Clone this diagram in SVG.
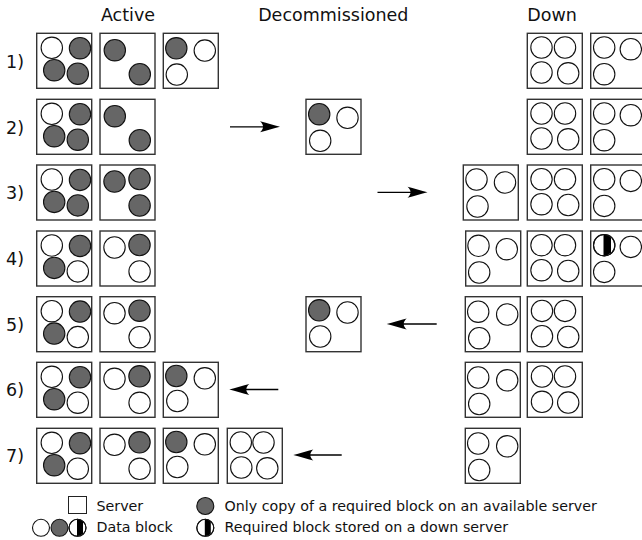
<svg xmlns="http://www.w3.org/2000/svg" width="642" height="540" viewBox="0 0 642 540">
<style>
text{font-family:"DejaVu Sans","Liberation Sans",sans-serif;fill:#111}
.t{font-size:17.5px;text-anchor:middle}
.r{font-size:17.5px}
.l{font-size:14.25px}
.b{fill:#fff;stroke:#333;stroke-width:1.4}
.w{fill:#fff;stroke:#111;stroke-width:1.1}
.g{fill:#666;stroke:#111;stroke-width:1.1}
.o{fill:none;stroke:#111;stroke-width:1.1}
.k{fill:#000}
.a{stroke:#000;stroke-width:1.3;fill:none;marker-end:url(#ah)}
</style>
<defs>
<marker id="ah" viewBox="-21 -6 22 12" refX="-8" refY="0" markerWidth="22" markerHeight="12" markerUnits="userSpaceOnUse" orient="auto">
<path d="M0,0 C-6,-1.5 -14,-4 -20,-5.5 C-16,-2 -16,2 -20,5.5 C-14,4 -6,1.5 0,0 Z" fill="#000"/>
</marker>
</defs>
<rect width="642" height="540" fill="#fff"/>

<g id="headers">
<text class="t" x="128" y="21">Active</text>
<text class="t" x="333.3" y="21">Decommissioned</text>
<text class="t" x="552" y="21">Down</text>
</g>
<g id="row-labels">
<text class="r" x="6" y="67.5">1)</text>
<text class="r" x="6" y="133.5">2)</text>
<text class="r" x="6" y="199">3)</text>
<text class="r" x="6" y="265">4)</text>
<text class="r" x="6" y="330.7">5)</text>
<text class="r" x="6" y="396.3">6)</text>
<text class="r" x="6" y="462.3">7)</text>
</g>

<!-- Row 1 -->
<g id="r1-a1"><rect class="b" x="36.7" y="33.3" width="55" height="55"/>
<circle class="w" cx="51.8" cy="47.8" r="10.7"/><circle class="g" cx="80" cy="48.2" r="10.7"/><circle class="g" cx="54.2" cy="70.2" r="10.7"/><circle class="g" cx="77.8" cy="73.7" r="10.7"/></g>
<g id="r1-a2"><rect class="b" x="100" y="33.3" width="55" height="55"/>
<circle class="g" cx="114.8" cy="50.2" r="10.7"/><circle class="g" cx="139.8" cy="74.2" r="10.7"/></g>
<g id="r1-a3"><rect class="b" x="163.3" y="33.3" width="55" height="55"/>
<circle class="g" cx="176.3" cy="48.3" r="10.7"/><circle class="w" cx="204.8" cy="50.6" r="10.7"/><circle class="w" cx="176.8" cy="74.6" r="10.7"/></g>
<g id="r1-d1"><rect class="b" x="527.3" y="33.3" width="55" height="55"/>
<circle class="w" cx="541.5" cy="47.5" r="10.7"/><circle class="w" cx="565" cy="47.5" r="10.7"/><circle class="w" cx="541.5" cy="72.5" r="10.7"/><circle class="w" cx="568.2" cy="73.3" r="10.7"/></g>
<g id="r1-d2"><rect class="b" x="590.7" y="33.3" width="55" height="55"/>
<circle class="w" cx="604.2" cy="47.5" r="10.7"/><circle class="w" cx="630.8" cy="49.2" r="10.7"/><circle class="w" cx="604.2" cy="74.2" r="10.7"/></g>

<!-- Row 2 -->
<g id="r2-a1"><rect class="b" x="36.7" y="99.3" width="55" height="55"/>
<circle class="w" cx="51.8" cy="113.8" r="10.7"/><circle class="g" cx="80" cy="114.2" r="10.7"/><circle class="g" cx="54.2" cy="136.2" r="10.7"/><circle class="g" cx="77.8" cy="139.7" r="10.7"/></g>
<g id="r2-a2"><rect class="b" x="100" y="99.3" width="55" height="55"/>
<circle class="g" cx="114.8" cy="116.2" r="10.7"/><circle class="g" cx="139.8" cy="140.2" r="10.7"/></g>
<g id="r2-x1"><rect class="b" x="306" y="99.3" width="55" height="55"/>
<circle class="g" cx="319.2" cy="114.2" r="10.7"/><circle class="w" cx="347.5" cy="117.8" r="10.7"/><circle class="w" cx="320.2" cy="140.8" r="10.7"/></g>
<g id="r2-d1"><rect class="b" x="527.3" y="99.3" width="55" height="55"/>
<circle class="w" cx="541.5" cy="113.5" r="10.7"/><circle class="w" cx="565" cy="113.5" r="10.7"/><circle class="w" cx="541.5" cy="138.5" r="10.7"/><circle class="w" cx="568.2" cy="139.3" r="10.7"/></g>
<g id="r2-d2"><rect class="b" x="590.7" y="99.3" width="55" height="55"/>
<circle class="w" cx="604.2" cy="113.5" r="10.7"/><circle class="w" cx="630.8" cy="115.2" r="10.7"/><circle class="w" cx="604.2" cy="140.2" r="10.7"/></g>

<!-- Row 3 -->
<g id="r3-a1"><rect class="b" x="36.7" y="165" width="55" height="55"/>
<circle class="w" cx="51.8" cy="179.5" r="10.7"/><circle class="g" cx="80" cy="179.9" r="10.7"/><circle class="g" cx="54.2" cy="201.9" r="10.7"/><circle class="g" cx="77.8" cy="205.4" r="10.7"/></g>
<g id="r3-a2"><rect class="b" x="100" y="165" width="55" height="55"/>
<circle class="g" cx="114.5" cy="181.5" r="10.7"/><circle class="g" cx="139.5" cy="179" r="10.7"/><circle class="g" cx="139.6" cy="205.5" r="10.7"/></g>
<g id="r3-d0"><rect class="b" x="463.3" y="165" width="55" height="55"/>
<circle class="w" cx="476.5" cy="179.5" r="10.7"/><circle class="w" cx="505" cy="182.5" r="10.7"/><circle class="w" cx="477.5" cy="206.5" r="10.7"/></g>
<g id="r3-d1"><rect class="b" x="527.3" y="165" width="55" height="55"/>
<circle class="w" cx="541.5" cy="179.2" r="10.7"/><circle class="w" cx="565" cy="179.2" r="10.7"/><circle class="w" cx="541.5" cy="204.2" r="10.7"/><circle class="w" cx="568.2" cy="205" r="10.7"/></g>
<g id="r3-d2"><rect class="b" x="590.7" y="165" width="55" height="55"/>
<circle class="w" cx="604.2" cy="179.2" r="10.7"/><circle class="w" cx="630.8" cy="180.9" r="10.7"/><circle class="w" cx="604.2" cy="205.9" r="10.7"/></g>

<!-- Row 4 -->
<g id="r4-a1"><rect class="b" x="36.7" y="231" width="55" height="55"/>
<circle class="w" cx="51.8" cy="245.5" r="10.7"/><circle class="g" cx="80" cy="245.9" r="10.7"/><circle class="g" cx="54.2" cy="267.9" r="10.7"/><circle class="w" cx="77.8" cy="271.4" r="10.7"/></g>
<g id="r4-a2"><rect class="b" x="100" y="231" width="55" height="55"/>
<circle class="w" cx="114.5" cy="247.5" r="10.7"/><circle class="g" cx="139.5" cy="245" r="10.7"/><circle class="w" cx="139.6" cy="271.5" r="10.7"/></g>
<g id="r4-d0"><rect class="b" x="465.7" y="231" width="55" height="55"/>
<circle class="w" cx="478.5" cy="245.8" r="10.7"/><circle class="w" cx="506.8" cy="249.2" r="10.7"/><circle class="w" cx="479.2" cy="272.5" r="10.7"/></g>
<g id="r4-d1"><rect class="b" x="527.3" y="231" width="55" height="55"/>
<circle class="w" cx="541.5" cy="245.2" r="10.7"/><circle class="w" cx="565" cy="245.2" r="10.7"/><circle class="w" cx="541.5" cy="270.2" r="10.7"/><circle class="w" cx="568.2" cy="271" r="10.7"/></g>
<g id="r4-d2"><rect class="b" x="590.7" y="231" width="55" height="55"/>
<circle class="w" cx="604.2" cy="245.2" r="10.7"/>
<path class="k" d="M603.5,234.52 A10.7,10.7 0 0 1 611,237.58 L611,252.82 A10.7,10.7 0 0 1 603.5,255.88 Z"/>
<circle class="o" cx="604.2" cy="245.2" r="10.7"/>
<circle class="w" cx="630.8" cy="246.9" r="10.7"/><circle class="w" cx="604.2" cy="271.9" r="10.7"/></g>

<!-- Row 5 -->
<g id="r5-a1"><rect class="b" x="36.7" y="296.7" width="55" height="55"/>
<circle class="w" cx="51.8" cy="311.2" r="10.7"/><circle class="g" cx="80" cy="311.6" r="10.7"/><circle class="g" cx="54.2" cy="333.6" r="10.7"/><circle class="w" cx="77.8" cy="337.1" r="10.7"/></g>
<g id="r5-a2"><rect class="b" x="100" y="296.7" width="55" height="55"/>
<circle class="w" cx="114.5" cy="313.2" r="10.7"/><circle class="g" cx="139.5" cy="310.7" r="10.7"/><circle class="w" cx="139.6" cy="337.2" r="10.7"/></g>
<g id="r5-x1"><rect class="b" x="306" y="296.7" width="55" height="55"/>
<circle class="g" cx="319.2" cy="310.3" r="10.7"/><circle class="w" cx="347.5" cy="312.5" r="10.7"/><circle class="w" cx="320.2" cy="336.5" r="10.7"/></g>
<g id="r5-d0"><rect class="b" x="465.3" y="296.7" width="55" height="55"/>
<circle class="w" cx="478.2" cy="311.7" r="10.7"/><circle class="w" cx="507.2" cy="314.5" r="10.7"/><circle class="w" cx="479.2" cy="338.2" r="10.7"/></g>
<g id="r5-d1"><rect class="b" x="527.3" y="296.7" width="55" height="55"/>
<circle class="w" cx="542" cy="310.9" r="10.7"/><circle class="w" cx="565" cy="310.9" r="10.7"/><circle class="w" cx="542" cy="336.2" r="10.7"/><circle class="w" cx="568.2" cy="337" r="10.7"/></g>

<!-- Row 6 -->
<g id="r6-a1"><rect class="b" x="36.7" y="362.3" width="55" height="55"/>
<circle class="w" cx="51.8" cy="376.8" r="10.7"/><circle class="g" cx="80" cy="377.2" r="10.7"/><circle class="g" cx="54.2" cy="399.2" r="10.7"/><circle class="w" cx="77.8" cy="402.7" r="10.7"/></g>
<g id="r6-a2"><rect class="b" x="100" y="362.3" width="55" height="55"/>
<circle class="w" cx="114.5" cy="378.8" r="10.7"/><circle class="g" cx="139.5" cy="376.3" r="10.7"/><circle class="w" cx="139.6" cy="402.8" r="10.7"/></g>
<g id="r6-a3"><rect class="b" x="163.3" y="362.3" width="55" height="55"/>
<circle class="g" cx="176.3" cy="376" r="10.7"/><circle class="w" cx="204.8" cy="378.3" r="10.7"/><circle class="w" cx="177.3" cy="401" r="10.7"/></g>
<g id="r6-d0"><rect class="b" x="465.3" y="362.3" width="55" height="55"/>
<circle class="w" cx="478.2" cy="377.5" r="10.7"/><circle class="w" cx="507.2" cy="380.3" r="10.7"/><circle class="w" cx="479.2" cy="404" r="10.7"/></g>
<g id="r6-d1"><rect class="b" x="527.3" y="362.3" width="55" height="55"/>
<circle class="w" cx="542" cy="376.5" r="10.7"/><circle class="w" cx="565" cy="376.5" r="10.7"/><circle class="w" cx="542" cy="401.8" r="10.7"/><circle class="w" cx="568.2" cy="402.6" r="10.7"/></g>

<!-- Row 7 -->
<g id="r7-a1"><rect class="b" x="36.7" y="428.3" width="55" height="55"/>
<circle class="w" cx="51.8" cy="442.8" r="10.7"/><circle class="g" cx="80" cy="443.2" r="10.7"/><circle class="g" cx="54.2" cy="465.2" r="10.7"/><circle class="w" cx="77.8" cy="468.7" r="10.7"/></g>
<g id="r7-a2"><rect class="b" x="100" y="428.3" width="55" height="55"/>
<circle class="w" cx="114.5" cy="444.8" r="10.7"/><circle class="g" cx="139.5" cy="442.3" r="10.7"/><circle class="w" cx="139.6" cy="468.8" r="10.7"/></g>
<g id="r7-a3"><rect class="b" x="163.3" y="428.3" width="55" height="55"/>
<circle class="g" cx="176.3" cy="442" r="10.7"/><circle class="w" cx="204.8" cy="444.3" r="10.7"/><circle class="w" cx="177.3" cy="467" r="10.7"/></g>
<g id="r7-a4"><rect class="b" x="227.3" y="428.3" width="55" height="55"/>
<circle class="w" cx="240.8" cy="442.5" r="10.7"/><circle class="w" cx="263.5" cy="442.5" r="10.7"/><circle class="w" cx="241.3" cy="467.5" r="10.7"/><circle class="w" cx="267.3" cy="468.3" r="10.7"/></g>
<g id="r7-d0"><rect class="b" x="465.3" y="428.3" width="55" height="55"/>
<circle class="w" cx="478.2" cy="443.5" r="10.7"/><circle class="w" cx="507.2" cy="446.3" r="10.7"/><circle class="w" cx="479.2" cy="470" r="10.7"/></g>

<g id="connectors">
<path class="a" d="M230,126.8 H272"/>
<path class="a" d="M377.5,192.3 H419.5"/>
<path class="a" d="M436.7,324 H394.7"/>
<path class="a" d="M278.3,389.5 H237.3"/>
<path class="a" d="M341.7,455 H301.3"/>
</g>

<g id="legend">
<rect x="68.5" y="496.5" width="18" height="17" fill="#fff" stroke="#222" stroke-width="1"/>
<text class="l" x="96.5" y="511">Server</text>
<circle class="w" cx="41" cy="527.8" r="8.5"/>
<circle class="g" cx="59.5" cy="527.8" r="8.5"/>
<circle class="w" cx="77.5" cy="527.8" r="8.5"/>
<path class="k" d="M77,519.31 A8.5,8.5 0 0 1 83,521.78 L83,533.82 A8.5,8.5 0 0 1 77,536.29 Z"/>
<circle class="o" cx="77.5" cy="527.8" r="8.5"/>
<text class="l" x="96.5" y="532.3">Data block</text>
<circle class="g" cx="205.3" cy="506" r="8.5"/>
<text class="l" x="224.5" y="511">Only copy of a required block on an available server</text>
<circle class="w" cx="205.3" cy="527.8" r="8.5"/>
<path class="k" d="M204.8,519.31 A8.5,8.5 0 0 1 210.8,521.78 L210.8,533.82 A8.5,8.5 0 0 1 204.8,536.29 Z"/>
<circle class="o" cx="205.3" cy="527.8" r="8.5"/>
<text class="l" x="224.5" y="532.3">Required block stored on a down server</text>
</g>
</svg>
